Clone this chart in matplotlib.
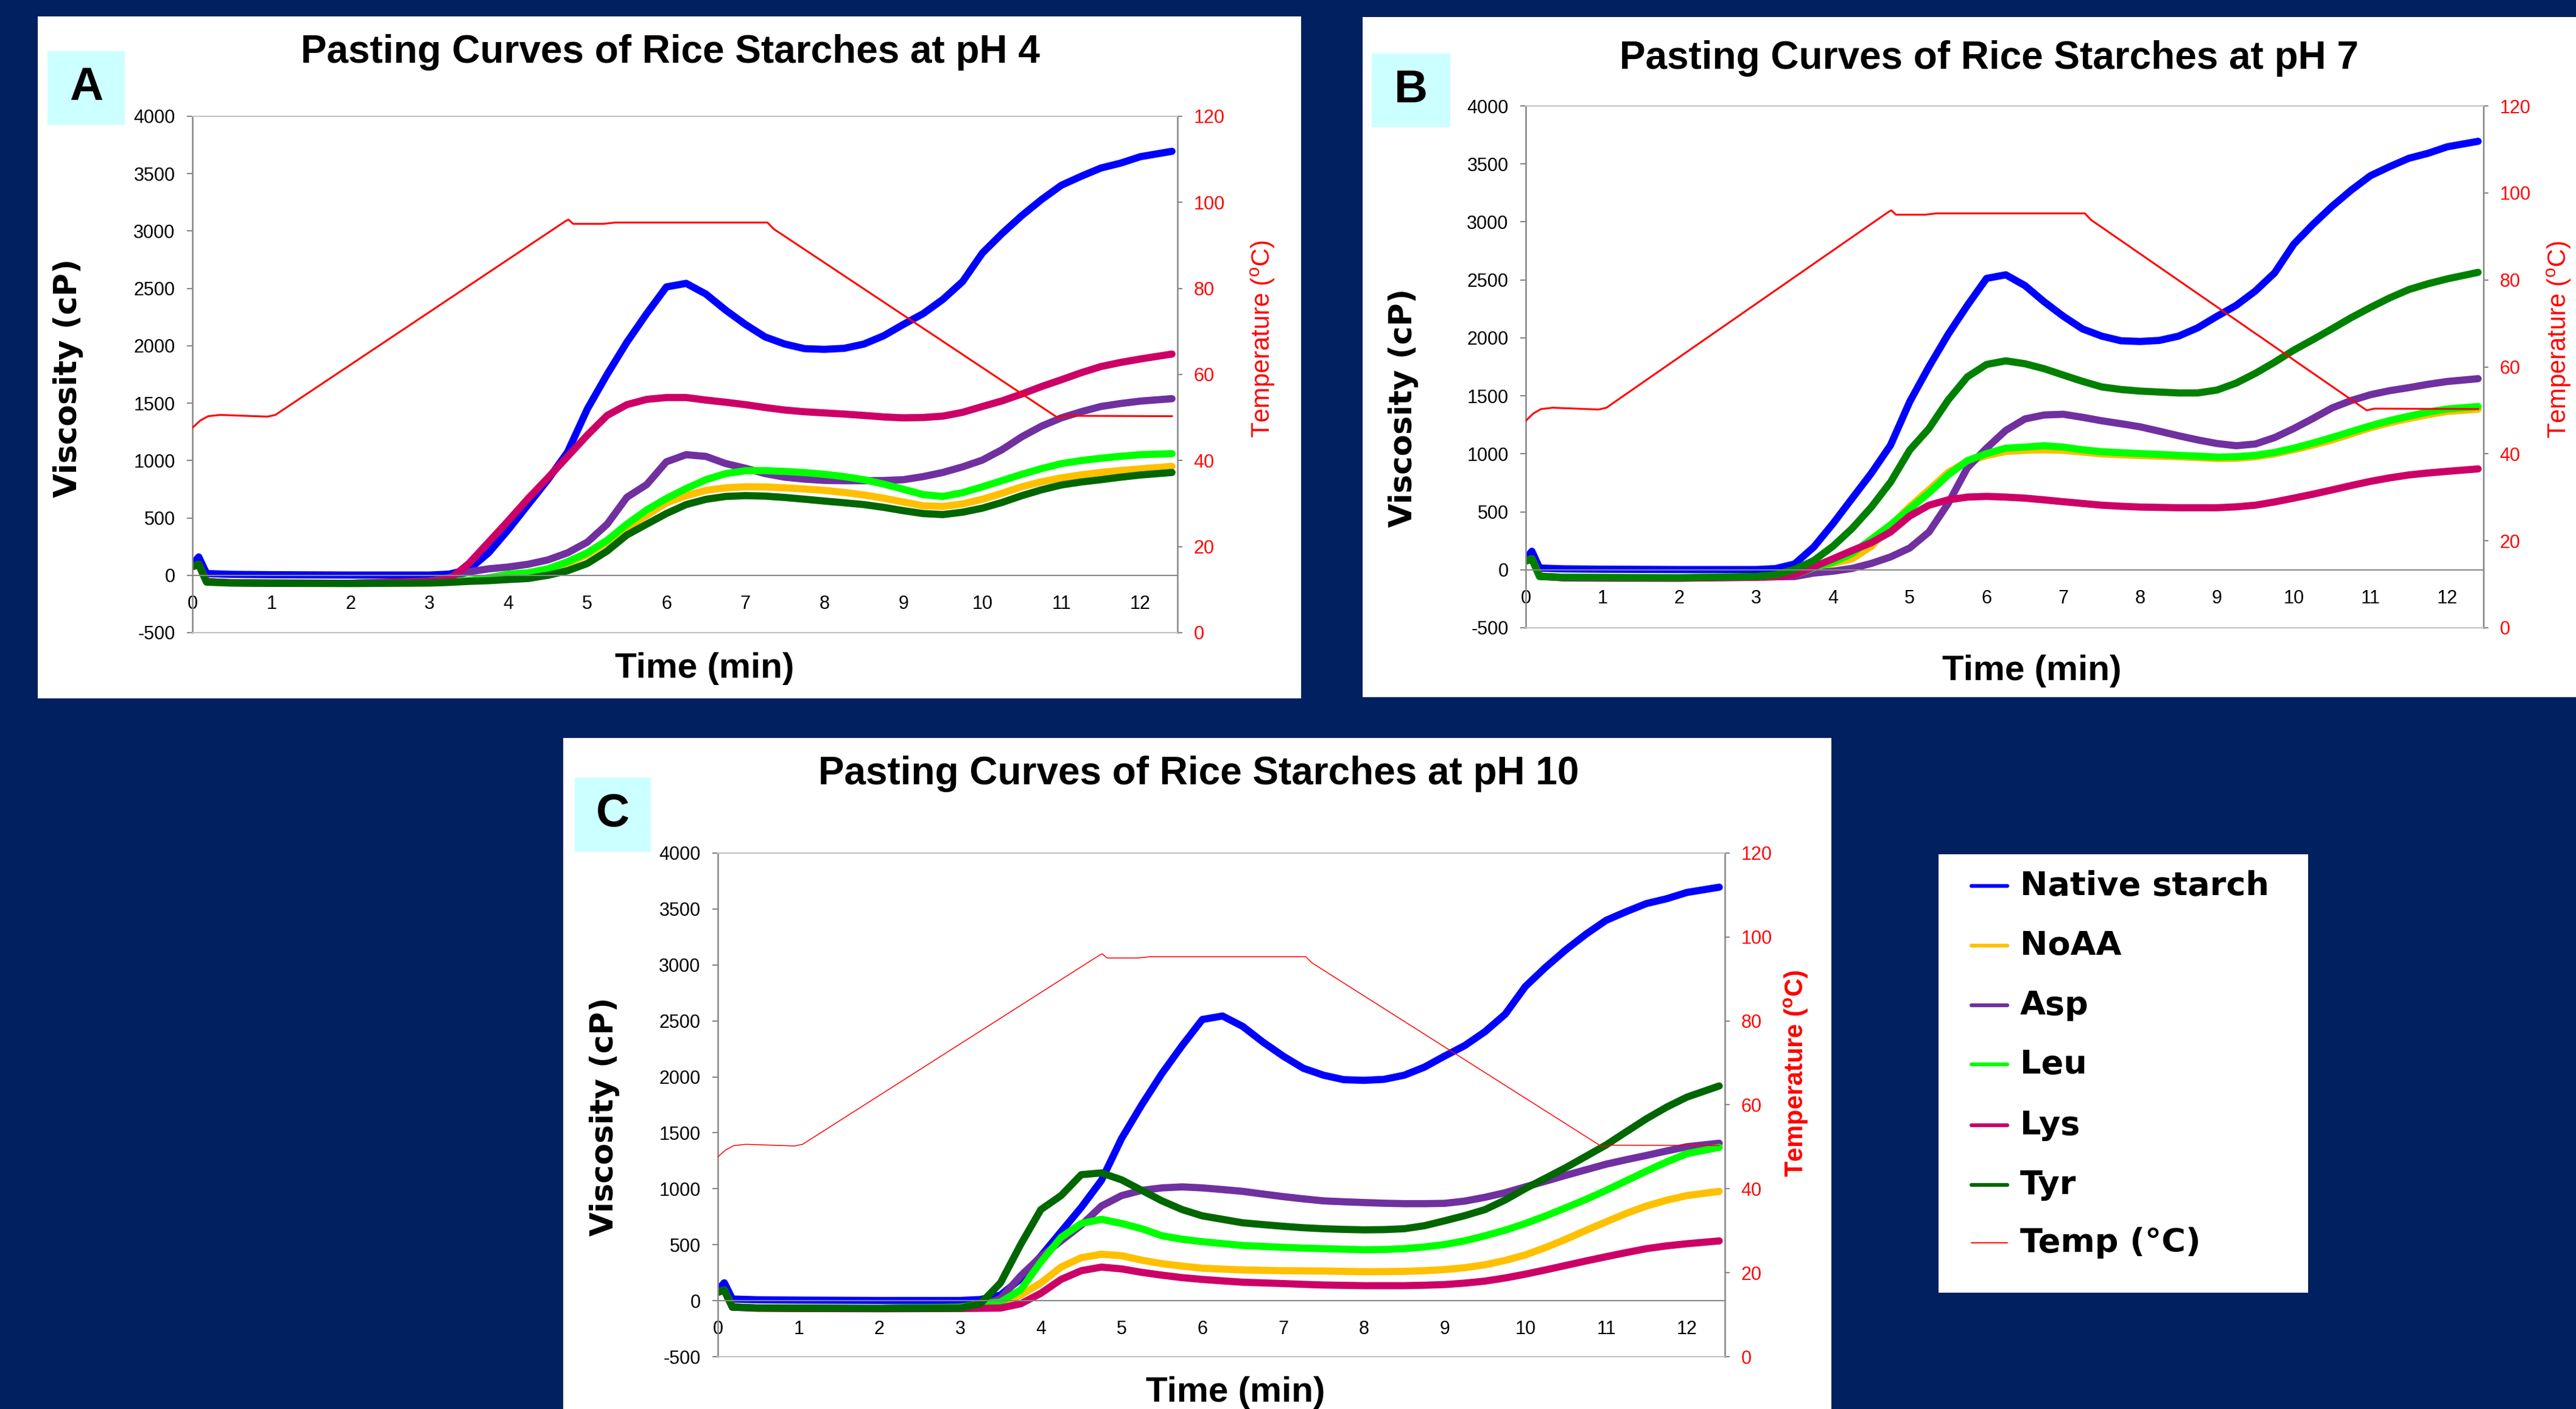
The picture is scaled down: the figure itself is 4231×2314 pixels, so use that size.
import numpy as np
import matplotlib
matplotlib.use('Agg')
import matplotlib.pyplot as plt
from matplotlib.patches import Rectangle
from matplotlib.lines import Line2D

# ---------------- data ----------------
time_min = [0, 0.08, 0.18, 0.5, 1, 2, 3, 3.25, 3.5, 3.75, 4, 4.25, 4.5, 4.75, 5, 5.25,
            5.5, 5.75, 6, 6.25, 6.5, 6.75, 7, 7.25, 7.5, 7.75, 8, 8.25, 8.5, 8.75, 9, 9.25,
            9.5, 9.75, 10, 10.25, 10.5, 10.75, 11, 11.25, 11.5, 11.75, 12, 12.4]
series_names = ['Native starch', 'NoAA', 'Asp', 'Leu', 'Lys', 'Tyr']

native = [95, 160, 15, 8, 5, 2, 2, 10, 50, 196, 398, 616, 833, 1075, 1450, 1751, 2031, 2280,
          2513, 2544, 2451, 2311, 2186, 2077, 2015, 1975, 1969, 1978, 2015, 2087, 2186, 2280,
          2404, 2560, 2808, 2979, 3135, 3275, 3399, 3477, 3549, 3592, 3648, 3695]

ph4_noaa = [75, 95, -55, -65, -68, -70, -62, -55, -45, -25, -5, 10, 45, 105, 180, 290, 414, 522,
            631, 694, 740, 762, 771, 770, 762, 752, 740, 722, 700, 672, 638, 606,
            600, 622, 662, 715, 771, 815, 849, 875, 896, 913, 927, 949]
ph4_asp = [75, 95, -55, -65, -68, -70, -50, -20, 30, 56, 72, 96, 134, 196, 289, 445, 680, 790,
           989, 1051, 1036, 974, 933, 886, 855, 838, 827, 824, 824, 826, 833, 860,
           896, 945, 1004, 1095, 1207, 1300, 1372, 1425, 1471, 1497, 1518, 1539]
ph4_leu = [75, 95, -55, -65, -68, -70, -60, -55, -45, -22, 9, 22, 56, 118, 196, 305, 445, 569,
           669, 756, 833, 886, 911, 912, 905, 895, 880, 860, 833, 795, 750, 703,
           687, 720, 771, 825, 880, 930, 973, 1000, 1020, 1037, 1051, 1060]
ph4_lys = [75, 95, -55, -65, -68, -70, -55, -37, 103, 289, 476, 669, 849, 1036, 1222, 1393, 1487, 1533,
           1549, 1549, 1527, 1508, 1487, 1462, 1440, 1425, 1415, 1405, 1393, 1380, 1372, 1375,
           1387, 1420, 1471, 1520, 1580, 1645, 1704, 1765, 1819, 1855, 1885, 1928]
ph4_tyr = [75, 95, -60, -68, -70, -72, -68, -62, -53, -47, -37, -28, 0, 40, 103, 211, 351, 445,
           538, 616, 662, 687, 694, 690, 678, 663, 647, 632, 616, 592, 563, 538,
           529, 550, 585, 635, 694, 745, 787, 813, 833, 855, 874, 896]

ph7_noaa = [75, 95, -55, -65, -68, -70, -60, -55, -45, 10, 55, 95, 203, 380, 545, 690, 840, 935,
            985, 1020, 1030, 1035, 1030, 1015, 1000, 992, 985, 980, 975, 968, 960, 962,
            975, 1000, 1035, 1075, 1120, 1172, 1225, 1268, 1305, 1338, 1365, 1385]
ph7_asp = [75, 95, -55, -70, -72, -72, -62, -60, -58, -28, -12, 12, 55, 111, 188, 326, 572, 879,
           1049, 1202, 1301, 1335, 1341, 1315, 1285, 1260, 1233, 1195, 1156, 1120, 1089, 1070,
           1085, 1140, 1218, 1305, 1396, 1460, 1510, 1545, 1571, 1600, 1624, 1648]
ph7_leu = [75, 95, -55, -65, -68, -70, -60, -55, -43, 18, 65, 141, 264, 387, 526, 664, 818, 941,
           1002, 1049, 1058, 1070, 1058, 1035, 1018, 1010, 1002, 995, 987, 980, 972, 975,
           987, 1012, 1049, 1093, 1141, 1192, 1242, 1287, 1325, 1360, 1387, 1408]
ph7_lys = [75, 95, -55, -68, -70, -72, -65, -60, -43, 25, 95, 166, 234, 326, 464, 557, 603, 627,
           633, 627, 618, 603, 587, 572, 557, 548, 541, 538, 535, 535, 535, 543,
           557, 585, 618, 652, 689, 727, 763, 793, 818, 835, 849, 870]
ph7_tyr = [75, 95, -58, -65, -66, -68, -58, -43, 3, 80, 203, 357, 541, 756, 1033, 1218, 1464, 1664,
           1771, 1802, 1777, 1734, 1679, 1625, 1577, 1555, 1541, 1533, 1525, 1525, 1550, 1610,
           1694, 1790, 1894, 1985, 2079, 2175, 2263, 2345, 2417, 2467, 2509, 2565]

ph10_noaa = [75, 95, -55, -65, -68, -70, -60, -55, -28, 50, 159, 300, 384, 415, 402, 362, 331, 309,
             290, 282, 275, 271, 268, 266, 265, 262, 259, 260, 262, 268, 278, 295,
             321, 360, 409, 475, 549, 628, 705, 780, 846, 898, 939, 977]
ph10_asp = [75, 95, -55, -65, -68, -70, -55, -45, 19, 222, 393, 534, 674, 846, 939, 986, 1008, 1017,
            1008, 993, 977, 953, 930, 910, 892, 884, 877, 871, 867, 867, 870, 890,
            924, 965, 1017, 1068, 1120, 1170, 1220, 1260, 1298, 1338, 1376, 1407]
ph10_leu = [75, 95, -55, -65, -68, -70, -60, -28, -12, 97, 346, 565, 690, 727, 690, 643, 580, 549,
            527, 510, 493, 485, 477, 470, 465, 460, 455, 457, 465, 480, 502, 535,
            580, 630, 690, 757, 830, 905, 986, 1072, 1158, 1240, 1314, 1370]
ph10_lys = [75, 95, -58, -68, -70, -72, -70, -68, -66, -28, 66, 190, 268, 300, 284, 253, 228, 206,
            190, 177, 165, 159, 153, 146, 140, 137, 134, 134, 134, 138, 144, 157,
            175, 203, 237, 275, 315, 355, 393, 430, 465, 490, 509, 534]
ph10_tyr = [75, 95, -58, -65, -66, -68, -66, -28, 159, 502, 814, 939, 1126, 1142, 1080, 986, 892, 814,
            758, 727, 696, 680, 665, 652, 643, 637, 633, 635, 643, 670, 714, 760,
            814, 900, 1002, 1095, 1189, 1290, 1392, 1510, 1626, 1730, 1819, 1919]

temp_time = [0, 0.1, 0.2, 0.35, 0.95, 1.05, 4.72, 4.76, 4.82, 5.2, 5.35, 7.28, 7.36, 10.95, 11.05, 12.4]
temp_c = [47.6, 49.3, 50.3, 50.6, 50.2, 50.6, 95.6, 96.0, 95.0, 95.0, 95.3, 95.3, 93.8, 50.0, 50.4, 50.3]

visc_ticks = [-500, 0, 500, 1000, 1500, 2000, 2500, 3000, 3500, 4000]
temp_ticks = [0, 20, 40, 60, 80, 100, 120]
time_ticks = list(range(13))

# ---------------- style ----------------
W, H, DPI = 4231, 2314, 100
NAVY = '#002060'
colors = ['#0000FF', '#FFC000', '#7030A0', '#00FF00', '#CC0066', '#006600']
AXIS_GRAY = '#868686'
BORDER_GRAY = '#C0C0C0'
TICK_FONT = 'Liberation Sans'

plt.rcParams['font.family'] = ['DejaVu Sans']
plt.rcParams['axes.unicode_minus'] = False

fig = plt.figure(figsize=(W / DPI, H / DPI), dpi=DPI, facecolor=NAVY)


def frect(x0, y0, x1, y1):
    return [x0 / W, 1 - y1 / H, (x1 - x0) / W, (y1 - y0) / H]


def fbox(x0, y0, x1, y1, color, z=-5, ec='none'):
    r = Rectangle((x0 / W, 1 - y1 / H), (x1 - x0) / W, (y1 - y0) / H,
                  transform=fig.transFigure, facecolor=color, edgecolor=ec, zorder=z)
    fig.add_artist(r)


def ftext(x, y, s, **kw):
    fig.text(x / W, 1 - y / H, s, **kw)


panels = [
    dict(box=(62, 27, 2137, 1147), axes=(316, 191, 1934, 1039),
         title='Pasting Curves of Rice Starches at pH 4', title_xy=(1101, 86),
         letter='A', letter_box=(78, 84, 205, 205),
         ylab_xy=(112, 621), tlab_xy=(2074, 557), xlab_xy=(1157, 1098),
         data=[native, ph4_noaa, ph4_asp, ph4_leu, ph4_lys, ph4_tyr],
         temp_lw=2.2, temp_bold=False, tyr='#006600'),
    dict(box=(2238, 28, 4231, 1145), axes=(2506, 174, 4079, 1031),
         title='Pasting Curves of Rice Starches at pH 7', title_xy=(3267, 96),
         letter='B', letter_box=(2253, 88, 2382, 209),
         ylab_xy=(2305, 670), tlab_xy=(4203, 558), xlab_xy=(3337, 1102),
         data=[native, ph7_noaa, ph7_asp, ph7_leu, ph7_lys, ph7_tyr],
         temp_lw=2.2, temp_bold=False, tyr='#008000'),
    dict(box=(925, 1212, 3008, 2314), axes=(1179, 1401, 2833, 2228),
         title='Pasting Curves of Rice Starches at pH 10', title_xy=(1969, 1271),
         letter='C', letter_box=(944, 1277, 1069, 1399),
         ylab_xy=(993, 1834), tlab_xy=(2950, 1763), xlab_xy=(2029, 2287),
         data=[native, ph10_noaa, ph10_asp, ph10_leu, ph10_lys, ph10_tyr],
         temp_lw=1.1, temp_bold=True, tyr='#006600'),
]

for p in panels:
    fbox(*p['box'], 'white')
    fbox(*p['letter_box'], '#CCFFFF', z=-4)
    lx = (p['letter_box'][0] + p['letter_box'][2]) / 2
    ly = (p['letter_box'][1] + p['letter_box'][3]) / 2
    ftext(lx, ly, p['letter'], fontsize=55, fontweight='bold', family='Liberation Sans',
          ha='center', va='center')
    ftext(*p['title_xy'], p['title'], fontsize=46, fontweight='bold', family='Liberation Sans',
          ha='center', va='center')

    ax = fig.add_axes(frect(*p['axes']))
    ax.set_facecolor('white')
    cols = colors[:5] + [p['tyr']]
    for name, vals, col in zip(series_names, p['data'], cols):
        ax.plot(time_min, vals, color=col, lw=8.5, solid_capstyle='round',
                solid_joinstyle='round', label=name)
    ax.set_xlim(0, 12.47)
    ax.set_ylim(-500, 4000)
    ax.set_yticks(visc_ticks)
    ax.set_xticks(time_ticks)
    ax.spines['bottom'].set_position(('data', 0))
    ax.spines['bottom'].set_color(AXIS_GRAY)
    ax.spines['bottom'].set_linewidth(1.5)
    ax.spines['left'].set_color(AXIS_GRAY)
    ax.spines['left'].set_linewidth(1.8)
    ax.spines['top'].set_visible(False)
    ax.spines['right'].set_visible(False)
    ax.tick_params(axis='y', direction='out', length=6.5, width=1.5, color=AXIS_GRAY,
                   labelsize=22, pad=14, labelcolor='black')
    ax.tick_params(axis='x', length=0, pad=23, labelsize=22, labelcolor='black')
    for lab in ax.get_xticklabels() + ax.get_yticklabels():
        lab.set_family(TICK_FONT)

    ax2 = ax.twinx()
    ax2.plot(temp_time, temp_c, color='#FF0000', lw=p['temp_lw'], label='Temp (°C)')
    ax2.set_ylim(0, 120)
    ax2.set_yticks(temp_ticks)
    for s in ['top', 'bottom']:
        ax2.spines[s].set_color(BORDER_GRAY)
        ax2.spines[s].set_linewidth(1.5)
    ax2.spines['left'].set_visible(False)
    ax2.spines['right'].set_color(AXIS_GRAY)
    ax2.spines['right'].set_linewidth(1.8)
    ax2.tick_params(axis='y', direction='out', length=6, width=1.5, color=AXIS_GRAY,
                    labelsize=22, pad=13, labelcolor='#FF0000')
    for lab in ax2.get_yticklabels():
        lab.set_family(TICK_FONT)

    ftext(*p['ylab_xy'], 'Viscosity (cP)', rotation=90, fontsize=37, fontweight='bold',
          ha='center', va='center')
    ftext(*p['tlab_xy'], r'Temperature ($\mathregular{^o}$C)', rotation=90, fontsize=30,
          color='#FF0000', family='Liberation Sans',
          fontweight='bold' if p['temp_bold'] else 'normal', ha='center', va='center')
    ftext(*p['xlab_xy'], 'Time (min)', fontsize=42, fontweight='bold', family='Liberation Sans',
          ha='center', va='center')

# ---------------- legend ----------------
fbox(3184, 1403, 3791, 2123, 'white')
legend_labels = series_names + ['Temp (°C)']
legend_colors = colors + ['#FF0000']
legend_lw = [4.5] * 6 + [1.5]
row_y = [1455, 1553, 1651, 1748, 1848, 1946, 2041]
for lab, col, lw, yy in zip(legend_labels, legend_colors, legend_lw, row_y):
    fig.add_artist(Line2D([3238 / W, 3297 / W], [1 - yy / H, 1 - yy / H], color=col, lw=lw,
                          transform=fig.transFigure, solid_capstyle='round'))
    ftext(3318, yy, lab, fontsize=39, fontweight='bold', ha='left', va='center')

fig.savefig('out.png', dpi=DPI, facecolor=NAVY)
